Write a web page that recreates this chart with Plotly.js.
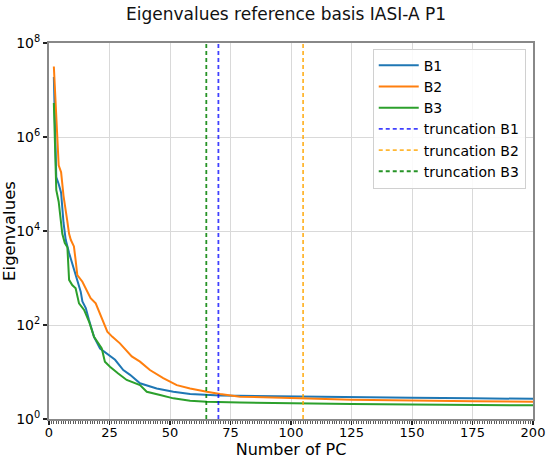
<!DOCTYPE html>
<html>
<head>
<meta charset="utf-8">
<script src="https://cdn.plot.ly/plotly-3.0.1.min.js"></script>
<style>html,body{margin:0;padding:0;background:#fff;}#chart{width:550px;height:459px;}</style>
</head>
<body>
<div id="chart"></div>
<script>
// Eigenvalues (PC number, eigenvalue)
const pcB1 = [2, 3, 4, 5, 6, 6.9, 8.3, 10.3, 11.7, 13.1, 13.8, 15.2, 16.5, 18.6, 21.1, 23.8, 27.3, 30.7, 33.5, 37.6, 44.5, 51.4, 58.3, 70.7, 103.7, 125, 150, 175, 200];
const eigB1 = [1.9e7, 1.4e5, 1.0e5, 6.5e4, 1.5e4, 6.5e3, 3.4e3, 1.48e3, 912, 513, 316, 229, 129, 56, 31.6, 25.1, 18.2, 11.0, 8.7, 5.75, 4.47, 3.8, 3.39, 3.16, 2.99, 2.88, 2.82, 2.75, 2.69];

const pcB2 = [2, 4, 5, 6, 7.5, 8.3, 9, 10.3, 11, 11.7, 13.8, 15.2, 17.2, 19.3, 20.7, 22, 24.1, 26.2, 29.3, 34.2, 37.6, 41.7, 47.2, 52.8, 58.3, 65.2, 70.7, 78.9, 90, 103.7, 125, 150, 175, 200];
const eigB2 = [3.16e7, 2.5e5, 1.78e5, 5.6e4, 1.7e4, 8.7e3, 6.5e3, 4.7e3, 2.4e3, 1.15e3, 832, 603, 372, 288, 191, 129, 72, 56, 40.7, 21.4, 16.6, 11.0, 7.41, 5.25, 4.47, 3.8, 3.39, 2.99, 2.85, 2.75, 2.57, 2.45, 2.4, 2.34];

const pcB3 = [2, 3, 4, 4.8, 5.5, 6.5, 7.6, 8.3, 9.6, 11, 12.4, 14.5, 16.5, 18.6, 21.8, 23.1, 25.2, 28.6, 32.1, 37.6, 40.4, 45.9, 51.4, 58.3, 65.2, 78.9, 103.7, 125, 150, 175, 200];
const eigB3 = [5.3e6, 7.5e4, 4.2e4, 1.7e4, 8.7e3, 5.6e3, 4.5e3, 912, 708, 603, 288, 209, 120, 56, 31.6, 16.6, 12.9, 9.3, 6.76, 5.25, 3.8, 3.24, 2.75, 2.45, 2.34, 2.24, 2.14, 2.09, 2.04, 1.99, 1.95];

const truncB1 = 70;
const truncB2 = 105;
const truncB3 = 65;

const yExponents = [0, 2, 4, 6, 8];
const xTicks = [0, 25, 50, 75, 100, 125, 150, 175, 200];

const font = "DejaVu Sans, sans-serif";

const traces = [
  {x: pcB1, y: eigB1, name: "B1", type: "scatter", mode: "lines", line: {color: "#1f77b4", width: 2}},
  {x: pcB2, y: eigB2, name: "B2", type: "scatter", mode: "lines", line: {color: "#ff7f0e", width: 2}},
  {x: pcB3, y: eigB3, name: "B3", type: "scatter", mode: "lines", line: {color: "#2ca02c", width: 2}}
];

function vline(x, color, name) {
  return {type: "line", xref: "x", yref: "paper", x0: x, x1: x, y0: 0, y1: 1,
          line: {color: color, width: 1.8, dash: "4px,3px"}, showlegend: true, name: name, layer: "above"};
}

const layout = {
  width: 550, height: 459,
  margin: {l: 49, r: 17, t: 43, b: 40},
  paper_bgcolor: "#fff", plot_bgcolor: "#fff",
  font: {family: font, color: "#000"},
  title: {text: "Eigenvalues reference basis IASI-A P1", font: {size: 17, family: font, color: "#111"}, x: 0.52, xanchor: "center", y: 0.97, yanchor: "middle"},
  xaxis: {
    range: [0, 200], tickvals: xTicks, ticktext: xTicks.map(String),
    ticks: "outside", ticklen: 4, tickwidth: 1.2, tickcolor: "#222",
    ticklabelstandoff: -4,
    minor: {dtick: 1, tick0: 0, ticks: "outside", ticklen: 2.5, tickwidth: 0.8, tickcolor: "#333", showgrid: false},
    showgrid: true, gridcolor: "#d9d9d9", gridwidth: 1,
    showline: true, linecolor: "#888", linewidth: 2, mirror: true,
    zeroline: false, tickfont: {size: 13, family: font},
    automargin: false,
    title: {text: "Number of PC", font: {size: 16, family: font}, standoff: 0}
  },
  yaxis: {
    type: "log", range: [0, 8],
    tickvals: yExponents.map(e => Math.pow(10, e)),
    ticktext: yExponents.map(e => "10<sup>" + e + "</sup>"),
    ticks: "outside", ticklen: 4, tickwidth: 1.2, tickcolor: "#222",
    showgrid: true, gridcolor: "#d9d9d9", gridwidth: 1,
    showline: true, linecolor: "#888", linewidth: 2, mirror: true,
    zeroline: false, tickfont: {size: 14, family: font},
    automargin: false,
    title: {text: "Eigenvalues", font: {size: 16.5, family: font}, standoff: 2}
  },
  legend: {
    x: 0.985, xanchor: "right", y: 0.985, yanchor: "top",
    bgcolor: "rgba(255,255,255,0.85)", bordercolor: "#d0d0d0", borderwidth: 1,
    font: {size: 14, family: font}, tracegroupgap: 0, itemwidth: 40
  },
  shapes: [
    vline(truncB1, "rgba(0,0,255,0.75)", "truncation B1"),
    vline(truncB2, "rgba(255,165,0,0.8)", "truncation B2"),
    vline(truncB3, "rgba(0,128,0,0.85)", "truncation B3")
  ],
  showlegend: true
};

Plotly.newPlot("chart", traces, layout, {displayModeBar: false, staticPlot: true});
</script>
</body>
</html>
